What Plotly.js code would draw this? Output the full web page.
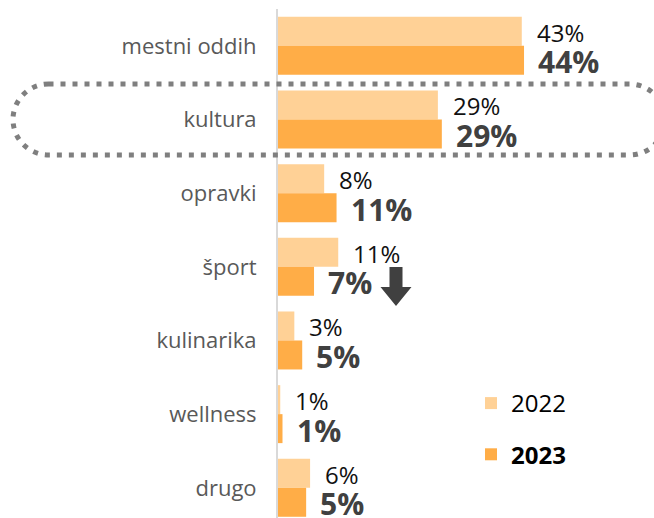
<!DOCTYPE html>
<html>
<head>
<meta charset="utf-8">
<script src="https://cdn.plot.ly/plotly-3.0.1.min.js"></script>
<style>html,body{margin:0;padding:0;background:#fff;}#chart{width:654px;height:518px;}</style>
</head>
<body>
<div id="chart"></div>
<script>
// ---- data ----
const categories = ["mestni oddih", "kultura", "opravki", "šport", "kulinarika", "wellness", "drugo"];
const values2022 = [43.3, 28.4, 8.2, 10.7, 2.9, 0.4, 5.7];
const values2023 = [43.7, 29.1, 10.4, 6.4, 4.3, 0.8, 5.0];
const labels2022 = ["43%", "29%", "8%", "11%", "3%", "1%", "6%"];
const labels2023 = ["44%", "29%", "11%", "7%", "5%", "1%", "5%"];
const seriesNames = ["2022", "2023"];

// ---- layout helpers ----
const W = 654, H = 518;
const M = {l: 278, r: 0, t: 9, b: 0};
const pw = W - M.l - M.r, ph = H - M.t - M.b;
const px = X => (X - M.l) / pw;
const py = Y => (H - M.b - Y) / ph;
const P = (X, Y) => px(X).toFixed(5) + "," + py(Y).toFixed(5);

// rounded dotted frame around "kultura"
function roundedFrame(x0, x1, y0, y1) {
  const r = (y1 - y0) / 2, k = 0.5523 * r, cy = (y0 + y1) / 2;
  const a = x0 + r, b = x1 - r;
  return "M" + P(a, y0) + " L" + P(b, y0) +
    " C" + P(b + k, y0) + " " + P(x1, cy - k) + " " + P(x1, cy) +
    " C" + P(x1, cy + k) + " " + P(b + k, y1) + " " + P(b, y1) +
    " L" + P(a, y1) +
    " C" + P(a - k, y1) + " " + P(x0, cy + k) + " " + P(x0, cy) +
    " C" + P(x0, cy - k) + " " + P(a - k, y0) + " " + P(a, y0) + " Z";
}
function downArrow(cx, top, headTop, tip, shaftW, headW) {
  return "M" + P(cx - shaftW / 2, top) + " L" + P(cx + shaftW / 2, top) +
    " L" + P(cx + shaftW / 2, headTop) + " L" + P(cx + headW / 2, headTop) +
    " L" + P(cx, tip) + " L" + P(cx - headW / 2, headTop) +
    " L" + P(cx - shaftW / 2, headTop) + " Z";
}

const c2022 = "#FFD196", c2023 = "#FFAD47";
const FONT = "Open Sans, Noto Sans, sans-serif";

const traces = [
  {type: "bar", orientation: "h", name: seriesNames[0], y: categories, x: values2022,
   marker: {color: c2022}, legendgroup: "a", hoverinfo: "skip"},
  {type: "bar", orientation: "h", name: "<b>" + seriesNames[1] + "</b>", y: categories, x: values2023,
   marker: {color: c2023}, legendgroup: "b", hoverinfo: "skip"}
];

const annotations = [];
categories.forEach((c, i) => {
  annotations.push({x: values2022[i], y: c, xref: "x", yref: "y", text: labels2022[i],
    showarrow: false, xanchor: "left", yanchor: "middle", xshift: 13, yshift: 14,
    height: 24, valign: "middle",
    font: {family: FONT, size: 24, color: "#111111"}});
  annotations.push({x: values2023[i], y: c, xref: "x", yref: "y", text: "<b>" + labels2023[i] + "</b>",
    showarrow: false, xanchor: "left", yanchor: "middle", xshift: 12, yshift: -16,
    height: 29, valign: "middle",
    font: {family: FONT, size: 30, color: "#404040"}});
});

const layout = {
  width: W, height: H,
  margin: M,
  paper_bgcolor: "#ffffff", plot_bgcolor: "#ffffff",
  barmode: "group", bargap: 0.213, bargroupgap: 0,
  font: {family: FONT},
  xaxis: {range: [0, pw / 5.63], showgrid: false, zeroline: false, showticklabels: false, showline: false, fixedrange: true},
  yaxis: {type: "category", range: [6.41, -0.5], showgrid: false, zeroline: false,
    showline: true, linecolor: "#d9d9d9", linewidth: 2, ticks: "",
    ticklabelstandoff: 15, tickfont: {family: FONT, size: 22, color: "#595959"}, fixedrange: true},
  showlegend: true,
  legend: {x: px(471), xanchor: "left", y: py(381), yanchor: "top", traceorder: "grouped",
    tracegroupgap: 17, font: {family: FONT, size: 24, color: "#000000"}, bgcolor: "rgba(0,0,0,0)"},
  annotations: annotations,
  shapes: [
    {type: "path", xref: "paper", yref: "paper", path: roundedFrame(13, 665, 84, 155),
     line: {color: "#7f7f7f", width: 5, dash: "5px,7px"}, fillcolor: "rgba(0,0,0,0)"},
    {type: "path", xref: "paper", yref: "paper", path: downArrow(396, 267, 287, 306, 13, 31),
     line: {width: 0}, fillcolor: "#404040"}
  ]
};

Plotly.newPlot("chart", traces, layout, {displayModeBar: false, staticPlot: true});
</script>
</body>
</html>
